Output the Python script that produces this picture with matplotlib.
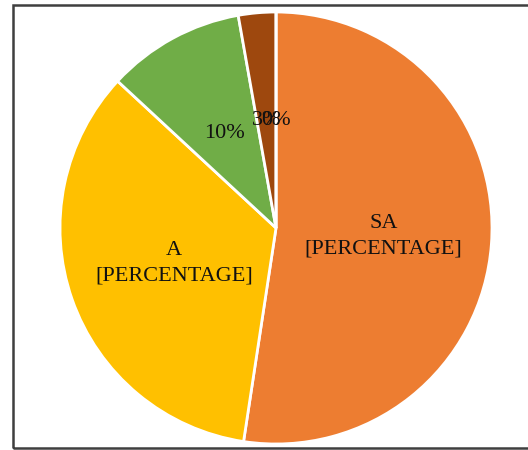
import matplotlib.pyplot as plt
from matplotlib.patches import Rectangle

# Response shares (percent), clockwise from the top
categories = ['SA', 'A', 'N', 'D', 'SD']
shares = [52.4, 34.5, 10.3, 2.8, 0]
label_texts = ['SA\n[PERCENTAGE]', 'A\n[PERCENTAGE]', '10%', '3%', '0%']
colors = ['#ED7D31', '#FFC000', '#70AD47', '#9E480E', '#997300']

plt.rcParams['font.family'] = ['Liberation Serif', 'DejaVu Serif']

W, H = 528, 450
fig = plt.figure(figsize=(W / 100, H / 100), dpi=100)

# Chart area border (runs off the right edge)
fig.patches.append(Rectangle((12.5 / W, 2.5 / H), 1.0, (445 - 2.5) / H,
                             transform=fig.transFigure, fill=False,
                             edgecolor='#3f3f3f', linewidth=1.8))

# Pie centred at (276, 228) px with radius 216 px
cx, cy, r = 276, 228, 216
ax = fig.add_axes([(cx - r) / W, (H - cy - r) / H, 2 * r / W, 2 * r / H])

wedges, texts = ax.pie(shares, labels=label_texts, colors=colors,
                       startangle=90, counterclock=False, radius=1,
                       labeldistance=0.5,
                       wedgeprops=dict(edgecolor='white', linewidth=2))
for t in texts:
    t.set_ha('center')
    t.set_va('center')
    t.set_multialignment('center')
    t.set_linespacing(1.45)
    t.set_fontsize(16)
    t.set_color('#111111')

ax.set_xlim(-1, 1)
ax.set_ylim(-1, 1)
ax.set_aspect('equal')
ax.axis('off')

fig.savefig('out.png', dpi=100)
